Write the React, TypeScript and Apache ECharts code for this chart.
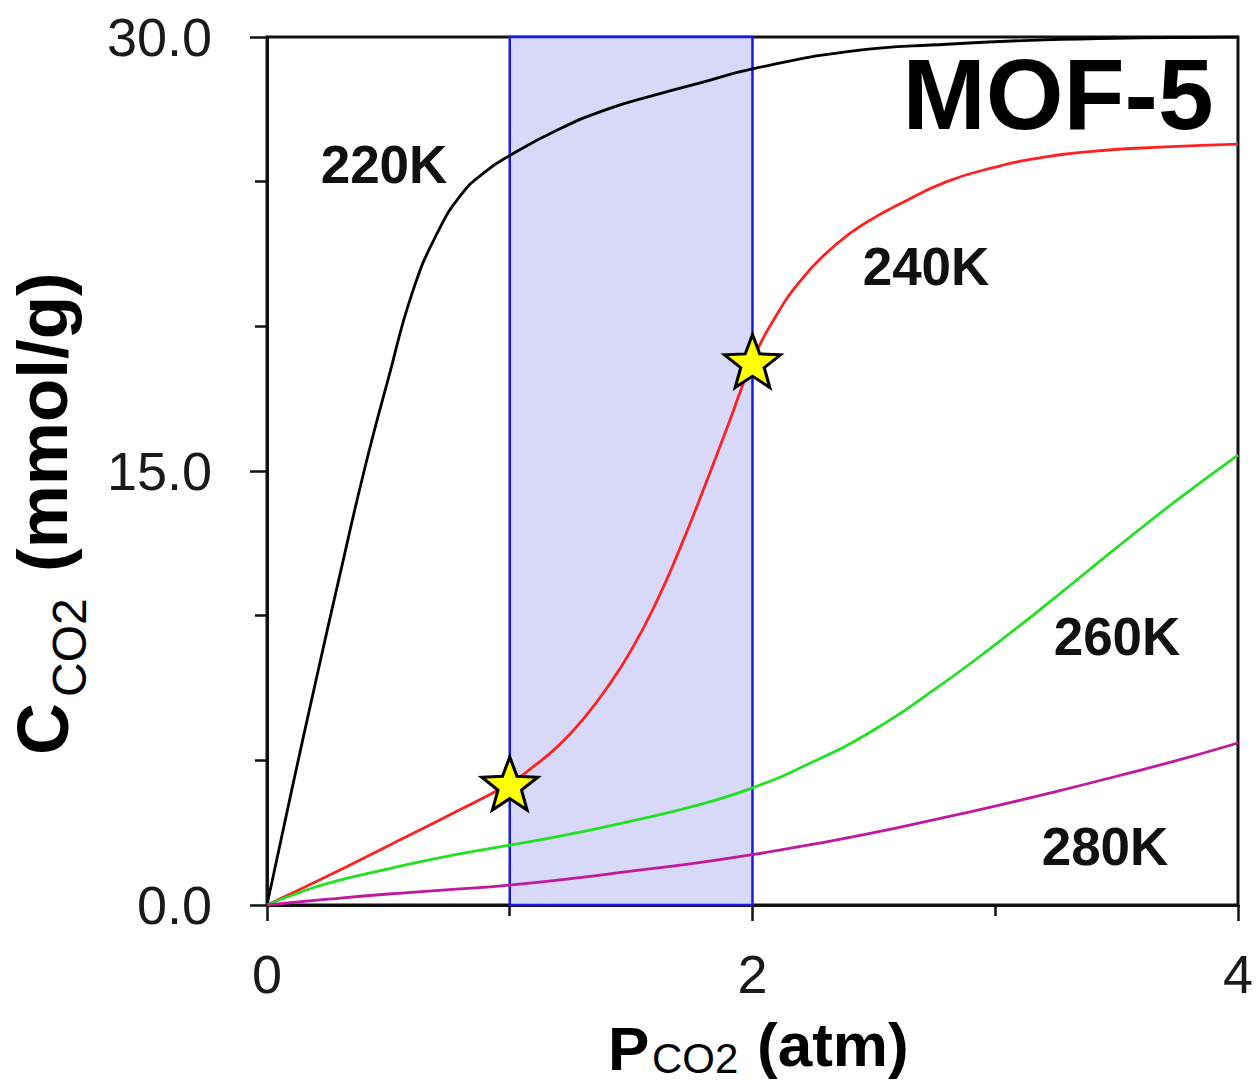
import React, { useEffect, useRef } from "react";
import * as echarts from "echarts";

// ---- data ----
const xTickValues = [0, 2, 4];
const yTickValues = [0, 15, 30];

const p220 = [0, 0.1, 0.2, 0.3, 0.4, 0.5, 0.6, 0.7, 0.8, 0.9, 1.0, 1.2, 1.4, 1.6, 1.8, 2.0, 2.4, 2.8, 3.2, 3.6, 4.0];
const c220 = [0, 3.9, 7.7, 11.4, 15.0, 18.2, 21.2, 23.2, 24.55, 25.35, 25.9, 26.8, 27.5, 28.0, 28.45, 28.9, 29.5, 29.75, 29.9, 29.97, 30.0];

const p240 = [0, 0.25, 0.5, 0.75, 1.0, 1.1, 1.2, 1.3, 1.4, 1.5, 1.6, 1.7, 1.8, 1.9, 2.0, 2.1, 2.2, 2.3, 2.4, 2.5, 2.6, 2.8, 3.0, 3.2, 3.4, 3.7, 4.0];
const c240 = [0, 1.0, 2.05, 3.1, 4.2, 4.8, 5.5, 6.4, 7.5, 8.8, 10.4, 12.3, 14.4, 16.6, 18.8, 20.4, 21.6, 22.5, 23.2, 23.75, 24.2, 25.0, 25.5, 25.85, 26.05, 26.2, 26.3];

const p260 = [0, 0.1, 0.25, 0.5, 0.75, 1.0, 1.25, 1.5, 1.75, 2.0, 2.25, 2.5, 2.75, 3.0, 3.25, 3.5, 3.75, 4.0];
const c260 = [0, 0.33, 0.75, 1.25, 1.7, 2.07, 2.45, 2.9, 3.4, 4.05, 4.95, 6.05, 7.45, 9.0, 10.65, 12.35, 14.0, 15.55];

const p280 = [0, 0.25, 0.5, 0.75, 1.0, 1.25, 1.5, 1.75, 2.0, 2.25, 2.5, 2.75, 3.0, 3.25, 3.5, 3.75, 4.0];
const c280 = [0, 0.2, 0.38, 0.53, 0.69, 0.91, 1.17, 1.43, 1.74, 2.1, 2.5, 2.95, 3.42, 3.92, 4.45, 5.0, 5.6];

const starP = [1.0, 2.0];
const starC = [4.2, 18.8];

const bandRange = [1, 2];

const seriesNames = ["220K", "240K", "260K", "280K"];
const seriesColors = ["#000000", "#ff2020", "#22e022", "#c0189f"];

const FONT = "'Liberation Sans', Arial, Helvetica, sans-serif";

function zip(xs: number[], ys: number[]) {
  return xs.map((x, i) => [x, ys[i]]);
}

function starPath() {
  const pts: string[] = [];
  for (let i = 0; i < 10; i++) {
    const r = i % 2 === 0 ? 50 : 21;
    const a = -Math.PI / 2 + (i * Math.PI) / 5;
    pts.push(`${(50 + r * Math.cos(a)).toFixed(2)},${(50 + r * Math.sin(a)).toFixed(2)}`);
  }
  return "path://M" + pts.join("L") + "Z";
}

export default function App() {
  const ref = useRef<HTMLDivElement>(null);

  useEffect(() => {
    if (!ref.current) return;
    const chart = echarts.init(ref.current, undefined, { renderer: "svg" });

    const curves = [
      zip(p220, c220),
      zip(p240, c240),
      zip(p260, c260),
      zip(p280, c280),
    ];

    const labelFont = `bold 53px ${FONT}`;

    const option: any = {
      animation: false,
      backgroundColor: "#ffffff",
      grid: {
        left: 267,
        top: 37,
        width: 973,
        height: 868,
        show: true,
        borderColor: "#111",
        borderWidth: 3,
        backgroundColor: "transparent",
      },
      xAxis: {
        type: "value",
        min: 0,
        max: 4,
        interval: 2,
        axisLine: { show: true, lineStyle: { color: "#111", width: 3 } },
        axisTick: { show: true, length: 16, lineStyle: { color: "#111", width: 2.5 } },
        minorTick: { show: true, splitNumber: 2, length: 11, lineStyle: { color: "#111", width: 2.5 } },
        splitLine: { show: false },
        minorSplitLine: { show: false },
        axisLabel: {
          margin: 42,
          fontSize: 54,
          fontFamily: FONT,
          color: "#1a1a1a",
          formatter: (v: number) => (xTickValues.includes(v) ? String(v) : ""),
        },
      },
      yAxis: {
        type: "value",
        min: 0,
        max: 30,
        interval: 15,
        axisLine: { show: true, lineStyle: { color: "#111", width: 3 } },
        axisTick: { show: true, length: 17, lineStyle: { color: "#111", width: 2.5 } },
        minorTick: { show: true, splitNumber: 3, length: 12, lineStyle: { color: "#111", width: 2.5 } },
        splitLine: { show: false },
        minorSplitLine: { show: false },
        axisLabel: {
          margin: 55,
          fontSize: 54,
          fontFamily: FONT,
          color: "#1a1a1a",
          formatter: (v: number) => (yTickValues.includes(v) ? v.toFixed(1) : ""),
        },
      },
      series: [
        {
          type: "line",
          name: "band",
          data: [],
          z: 1,
          silent: true,
          markArea: {
            silent: true,
            itemStyle: { color: "#d8d8f8", borderColor: "#1a1ae8", borderWidth: 2.5 },
            data: [[{ xAxis: bandRange[0], yAxis: 0 }, { xAxis: bandRange[1], yAxis: 30 }]],
          },
        },
        ...curves.map((d, i) => ({
          type: "line",
          name: seriesNames[i],
          data: d,
          z: 3,
          smooth: 0.5,
          showSymbol: false,
          symbol: "none",
          lineStyle: { color: seriesColors[i], width: 2.8 },
          itemStyle: { color: seriesColors[i] },
        })),
        {
          type: "scatter",
          name: "stars",
          z: 5,
          data: zip(starP, starC),
          symbol: starPath(),
          symbolSize: [56, 53],
          itemStyle: { color: "#ffff00", borderColor: "#000", borderWidth: 3, opacity: 1 },
        },
      ],
      graphic: [
        { type: "text", x: 384, y: 164, style: { text: seriesNames[0], font: labelFont, fill: "#111", align: "center", verticalAlign: "middle" } },
        { type: "text", x: 926, y: 266, style: { text: seriesNames[1], font: labelFont, fill: "#111", align: "center", verticalAlign: "middle" } },
        { type: "text", x: 1117, y: 636, style: { text: seriesNames[2], font: labelFont, fill: "#111", align: "center", verticalAlign: "middle" } },
        { type: "text", x: 1105, y: 846, style: { text: seriesNames[3], font: labelFont, fill: "#111", align: "center", verticalAlign: "middle" } },
        { type: "text", x: 1058, y: 94, style: { text: "MOF-5", font: `bold 100px ${FONT}`, fill: "#000", align: "center", verticalAlign: "middle" } },
        // y-axis title (rotated)
        { type: "text", x: 43, y: 755, rotation: Math.PI / 2, style: { text: "C", font: `bold 72px ${FONT}`, fill: "#000", align: "left", verticalAlign: "middle" } },
        { type: "text", x: 69, y: 697, rotation: Math.PI / 2, style: { text: "CO2", font: `48px ${FONT}`, fill: "#000", align: "left", verticalAlign: "middle" } },
        { type: "text", x: 42, y: 572, rotation: Math.PI / 2, style: { text: "(mmol/g)", font: `bold 71px ${FONT}`, fill: "#000", align: "left", verticalAlign: "middle" } },
        // x-axis title
        { type: "text", x: 608, y: 1048, style: { text: "P", font: `bold 62px ${FONT}`, fill: "#000", align: "left", verticalAlign: "middle" } },
        { type: "text", x: 652, y: 1058, style: { text: "CO2", font: `42px ${FONT}`, fill: "#000", align: "left", verticalAlign: "middle" } },
        { type: "text", x: 757, y: 1044, style: { text: "(atm)", font: `bold 62px ${FONT}`, fill: "#000", align: "left", verticalAlign: "middle" } },
      ],
    };

    chart.setOption(option);
    return () => chart.dispose();
  }, []);

  return (
    <div
      ref={ref}
      style={{ position: "absolute", left: 0, top: 0, width: 1256, height: 1081, background: "#fff" }}
    />
  );
}
